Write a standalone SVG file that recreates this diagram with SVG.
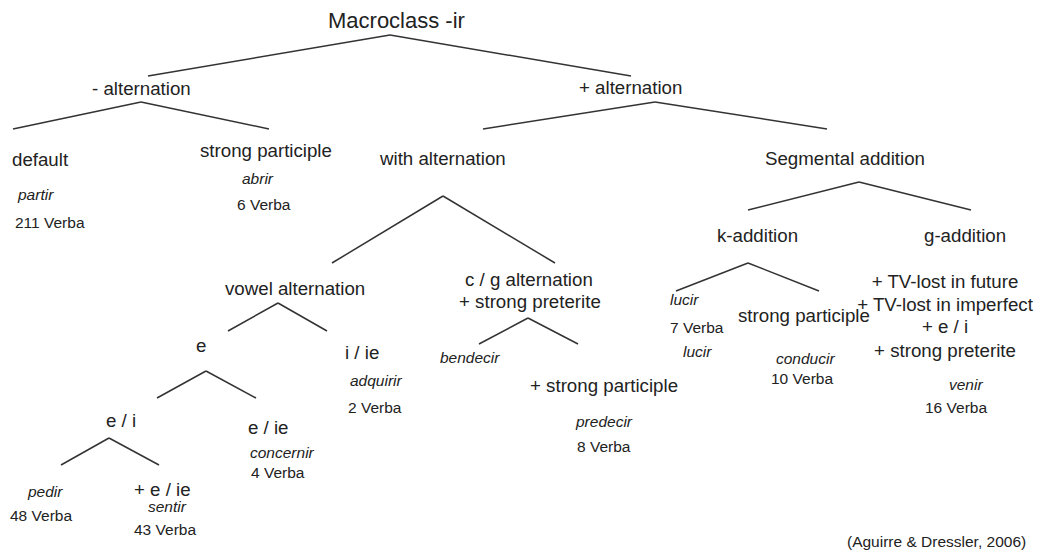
<svg xmlns="http://www.w3.org/2000/svg" width="1039" height="552" viewBox="0 0 1039 552">
<style>
text{font-family:"Liberation Sans",Arial,sans-serif;fill:#222}
.t{font-size:18.7px}
.r{font-size:22px}
.s{font-size:15.5px}
.i{font-size:15.5px;font-style:italic}
.c line{stroke:#333;stroke-width:1.5;fill:none}
</style>
<rect width="1039" height="552" fill="#fff"/>
<g class="c" id="connectors">
<line x1="390" y1="35" x2="148" y2="76"/>
<line x1="390" y1="35" x2="631" y2="76"/>
<line x1="141" y1="102" x2="13" y2="129"/>
<line x1="141" y1="102" x2="269" y2="129"/>
<line x1="655" y1="102" x2="483" y2="129"/>
<line x1="655" y1="102" x2="827" y2="129"/>
<line x1="443" y1="196" x2="332" y2="263"/>
<line x1="443" y1="196" x2="555" y2="263"/>
<line x1="859" y1="182" x2="748" y2="210"/>
<line x1="859" y1="182" x2="971" y2="210"/>
<line x1="748" y1="263" x2="676" y2="291"/>
<line x1="748" y1="263" x2="819" y2="291"/>
<line x1="278" y1="303" x2="228" y2="331"/>
<line x1="278" y1="303" x2="327" y2="331"/>
<line x1="206" y1="371" x2="157" y2="398"/>
<line x1="206" y1="371" x2="256" y2="398"/>
<line x1="109" y1="438" x2="61" y2="465"/>
<line x1="109" y1="438" x2="159" y2="465"/>
<line x1="528" y1="318" x2="479" y2="344"/>
<line x1="528" y1="318" x2="578" y2="344"/>
</g>
<g id="root"><text class="r" x="328" y="28">Macroclass -ir</text></g>
<g id="minus-alt"><text class="t" x="92" y="95">- alternation</text></g>
<g id="plus-alt"><text class="t" x="579" y="94">+ alternation</text></g>
<g id="default"><text class="t" x="12" y="166">default</text><text class="i" x="18" y="200">partir</text><text class="s" x="15" y="228">211 Verba</text></g>
<g id="strong-participle"><text class="t" x="200" y="157">strong participle</text><text class="i" x="242" y="184">abrir</text><text class="s" x="237" y="210">6 Verba</text></g>
<g id="with-alt"><text class="t" x="380" y="165">with alternation</text></g>
<g id="segmental"><text class="t" x="765" y="165">Segmental addition</text></g>
<g id="k-addition"><text class="t" x="717" y="242">k-addition</text></g>
<g id="g-addition"><text class="t" x="924" y="242">g-addition</text></g>
<g id="vowel-alt"><text class="t" x="225" y="295">vowel alternation</text></g>
<g id="cg-alt"><text class="t" x="465" y="286">c / g alternation</text><text class="t" x="459" y="308">+ strong preterite</text></g>
<g id="e"><text class="t" x="196" y="352">e</text></g>
<g id="i-ie"><text class="t" x="345" y="359">i / ie</text><text class="i" x="350" y="386">adquirir</text><text class="s" x="348" y="413">2 Verba</text></g>
<g id="e-i"><text class="t" x="106" y="427">e / i</text></g>
<g id="e-ie"><text class="t" x="248" y="434">e / ie</text><text class="i" x="250" y="458">concernir</text><text class="s" x="251" y="478">4 Verba</text></g>
<g id="pedir"><text class="i" x="28" y="497">pedir</text><text class="s" x="10" y="521">48 Verba</text></g>
<g id="plus-e-ie"><text class="t" x="134" y="496">+ e / ie</text><text class="i" x="148" y="512">sentir</text><text class="s" x="134" y="535">43 Verba</text></g>
<g id="bendecir"><text class="i" x="440" y="363">bendecir</text></g>
<g id="plus-strong-participle"><text class="t" x="530" y="392">+ strong participle</text><text class="i" x="576" y="427">predecir</text><text class="s" x="577" y="452">8 Verba</text></g>
<g id="lucir"><text class="i" x="670" y="305">lucir</text><text class="s" x="670" y="333">7 Verba</text><text class="i" x="683" y="357">lucir</text></g>
<g id="k-strong-participle"><text class="t" x="738" y="322">strong participle</text><text class="i" x="776" y="364">conducir</text><text class="s" x="771" y="384">10 Verba</text></g>
<g id="g-features"><g text-anchor="middle"><text class="t" x="945" y="288">+ TV-lost in future</text><text class="t" x="945" y="311">+ TV-lost in imperfect</text><text class="t" x="945" y="333">+ e / i</text><text class="t" x="945" y="357">+ strong preterite</text></g><text class="i" x="949" y="390">venir</text><text class="s" x="925" y="413">16 Verba</text></g>
<g id="citation"><text class="s" x="847" y="547">(Aguirre &amp; Dressler, 2006)</text></g>
</svg>
